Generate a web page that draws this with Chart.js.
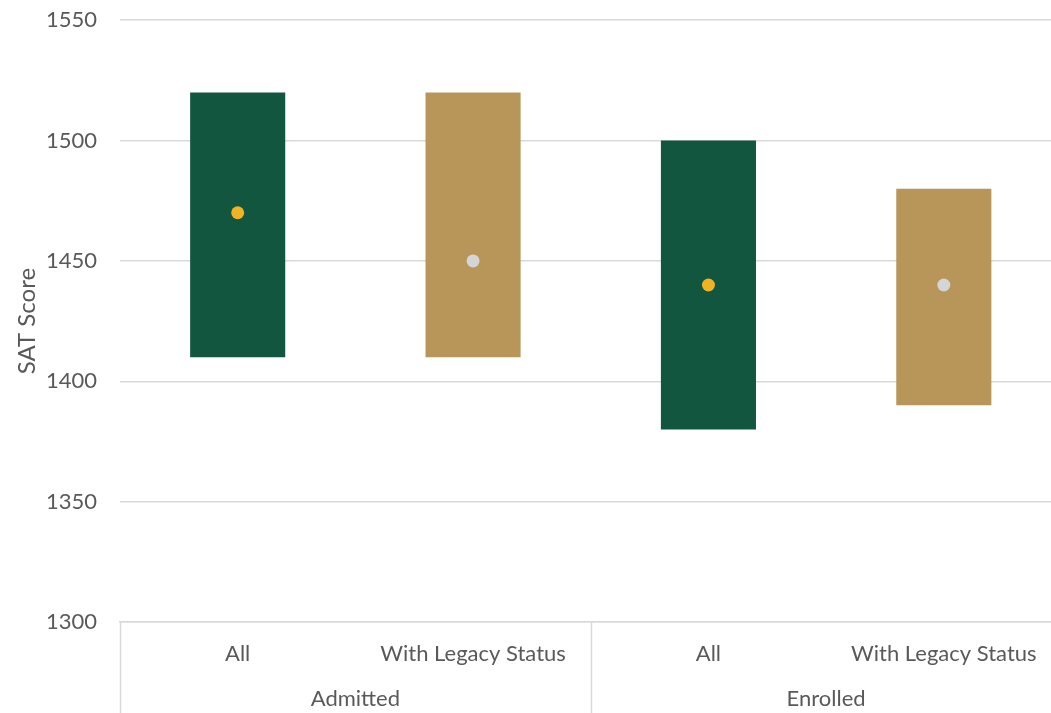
<!DOCTYPE html>
<html>
<head>
<meta charset="utf-8">
<script src="https://cdn.jsdelivr.net/npm/chart.js@4"></script>
<style>
  html, body { margin: 0; padding: 0; background: #fff; overflow: hidden; }
  #wrap { position: relative; width: 1068px; height: 729px; margin-top: -16px; }
</style>
</head>
<body>
<div id="wrap"><canvas id="chart"></canvas></div>
<script>
// ── data ─────────────────────────────────────────────
const categories = ['All', 'With Legacy Status', 'All', 'With Legacy Status'];
const groups     = ['Admitted', 'Enrolled'];
const lowScore   = [1410, 1410, 1380, 1390];
const highScore  = [1520, 1520, 1500, 1480];
const median     = [1470, 1450, 1440, 1440];
const yTicks     = [1300, 1350, 1400, 1450, 1500, 1550];

const barCols = ['#125640', '#B8965A', '#125640', '#B8965A'];
const dotCols = ['#F0B323', '#D3D5D6', '#F0B323', '#D3D5D6'];
const TXT  = '#595959';
const GRID = '#D9D9D9';
const FONT = 'Lato, "Open Sans", sans-serif';
const FS   = 22;

// group labels + separators under the category labels
const groupAxis = {
  id: 'groupAxis',
  afterDraw(chart) {
    const { ctx, scales: { x }, chartArea } = chart;
    const per = categories.length / groups.length;
    const step = x.getPixelForValue(1) - x.getPixelForValue(0);
    ctx.save();
    ctx.strokeStyle = GRID;
    ctx.lineWidth = 1.5;
    for (let g = 0; g <= groups.length; g++) {
      const px = Math.round(x.getPixelForValue(g * per) - step / 2) + 0.5;
      ctx.beginPath();
      ctx.moveTo(px, chartArea.bottom);
      ctx.lineTo(px, chart.height);
      ctx.stroke();
    }
    ctx.fillStyle = TXT;
    ctx.font = FS + 'px ' + FONT;
    ctx.textAlign = 'center';
    ctx.textBaseline = 'middle';
    groups.forEach((g, i) => {
      const a = x.getPixelForValue(i * per), b = x.getPixelForValue(i * per + per - 1);
      ctx.fillText(g, (a + b) / 2, chart.height - 14);
    });
    ctx.restore();
  }
};

new Chart(document.getElementById('chart'), {
  data: {
    labels: categories,
    datasets: [
      {
        type: 'line', data: median, showLine: false, order: 0,
        pointRadius: 6.5, pointHoverRadius: 6.5, pointBorderWidth: 0,
        pointBackgroundColor: dotCols, pointBorderColor: dotCols
      },
      {
        type: 'bar', order: 1,
        data: lowScore.map((l, i) => [l, highScore[i]]),
        backgroundColor: barCols, borderWidth: 0,
        barPercentage: 0.404, categoryPercentage: 1
      }
    ]
  },
  options: {
    responsive: true, maintainAspectRatio: false, animation: false,
    layout: { padding: { top: 4, right: 0, bottom: 0, left: 0 } },
    plugins: { legend: { display: false }, tooltip: { enabled: false } },
    scales: {
      x: {
        offset: true,
        grid: { display: false, drawTicks: false },
        border: { display: true, color: GRID, width: 1.5 },
        ticks: { color: TXT, font: { family: FONT, size: FS }, padding: 19, maxRotation: 0, autoSkip: false },
        afterFit: s => { s.height = 91; }
      },
      y: {
        min: 1300, max: 1550,
        afterBuildTicks: s => { s.ticks = yTicks.map(v => ({ value: v })); },
        grid: { color: GRID, lineWidth: 1.5, drawTicks: false },
        border: { display: false },
        ticks: { color: TXT, font: { family: FONT, size: FS }, padding: 23, callback: v => String(v) },
        title: { display: true, text: 'SAT Score', color: TXT, font: { family: FONT, size: 24 }, padding: { top: 13, bottom: 0 } },
        afterFit: s => { s.width = 120; }
      }
    }
  },
  plugins: [groupAxis]
});
</script>
</body>
</html>
